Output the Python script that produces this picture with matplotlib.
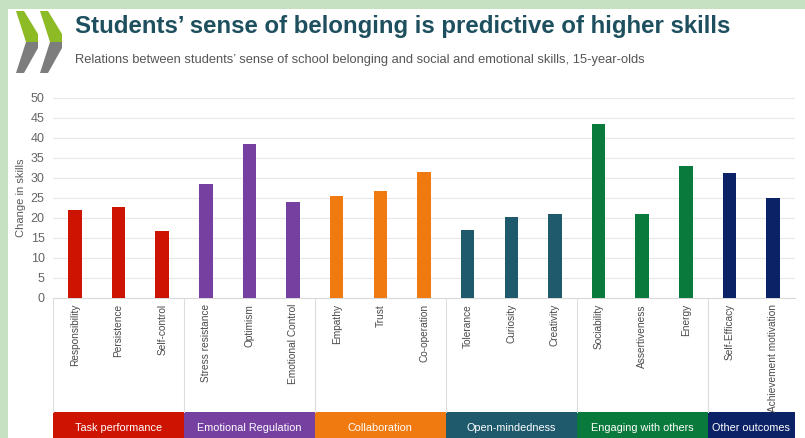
import matplotlib
matplotlib.use("Agg")
import matplotlib.pyplot as plt
from matplotlib.patches import Rectangle, Polygon
import numpy as np

# ---------------- data ----------------
skills = ["Responsibility", "Persistence", "Self-control",
          "Stress resistance", "Optimism", "Emotional Control",
          "Empathy", "Trust", "Co-operation",
          "Tolerance", "Curiosity", "Creativity",
          "Sociability", "Assertiveness", "Energy",
          "Self-Efficacy", "Achievement motivation"]
values = [21.9, 22.7, 16.8,
          28.5, 38.5, 24.1,
          25.6, 26.8, 31.5,
          16.9, 20.3, 20.9,
          43.5, 21.1, 33.1,
          31.3, 25.1]
groups = ["Task performance", "Emotional Regulation", "Collaboration",
          "Open-mindedness", "Engaging with others", "Other outcomes"]
group_sizes = [3, 3, 3, 3, 3, 2]
group_colors = ["#CC1400", "#7540A0", "#F07A10", "#1E5A6C", "#0A7A3C", "#0C2266"]
yticks = [0, 5, 10, 15, 20, 25, 30, 35, 40, 45, 50]

title = "Students\u2019 sense of belonging is predictive of higher skills"
subtitle = ("Relations between students\u2019 sense of school belonging and social "
            "and emotional skills, 15-year-olds")
ylabel = "Change in skills"

plt.rcParams['font.family'] = ['Liberation Sans', 'DejaVu Sans']

W, H = 805, 438
fig = plt.figure(figsize=(W / 100, H / 100), dpi=100)
fig.patch.set_facecolor("#C6E0C2")

# white panel
panel = fig.add_axes([8 / W, 0, 1 - 8 / W, 1 - 9 / H])
panel.set_facecolor("white")
panel.set_xticks([]); panel.set_yticks([])
for s in panel.spines.values():
    s.set_visible(False)

# logo (decoration) in pixel coords
logo = fig.add_axes([0, 0, 1, 1], facecolor="none")
logo.set_xlim(0, W); logo.set_ylim(H, 0); logo.axis("off")
for dx in (0, 24):
    logo.add_patch(Polygon([(16 + dx, 11), (24 + dx, 11), (38 + dx, 34), (38 + dx, 42),
                            (26 + dx, 42)],
                           closed=True, color="#8DBB25", lw=0))
    logo.add_patch(Polygon([(26 + dx, 42), (38 + dx, 42), (38 + dx, 48), (24 + dx, 73),
                            (16 + dx, 73)],
                           closed=True, color="#7D7D7D", lw=0))

fig.text(75 / W, 1 - 26 / H, title, fontsize=17.3, fontweight="bold",
         color="#1D4F5E", va="center", ha="left")
fig.text(75 / W, 1 - 60 / H, subtitle, fontsize=9.25, color="#555555",
         va="center", ha="left")

# ---------------- main axes ----------------
x0, x1 = 53, 795
ytop, ybot = 98, 298
ax = fig.add_axes([x0 / W, 1 - ybot / H, (x1 - x0) / W, (ybot - ytop) / H])
ax.set_facecolor("none")
n = len(skills)
x = np.arange(n)
colors = []
for c, sz in zip(group_colors, group_sizes):
    colors += [c] * sz
ax.bar(x, values, width=0.31, color=colors, zorder=3)
ax.set_xlim(-0.5, n - 0.5)
ax.set_ylim(0, 50)
ax.set_yticks(yticks)
ax.tick_params(axis="y", length=0, labelsize=9, labelcolor="#666666", pad=6)
ax.set_xticks([])
ax.grid(axis="y", color="#E8E8E8", lw=0.8, zorder=0)
for s in ["top", "right", "left"]:
    ax.spines[s].set_visible(False)
ax.spines["bottom"].set_color("#D9D9D9")
ax.set_ylabel(ylabel, fontsize=8, color="#595959", labelpad=3)

# ---------------- category / group area ----------------
band_top = 412
axb = fig.add_axes([x0 / W, 0, (x1 - x0) / W, (H - ybot) / H])
axb.set_facecolor("none")
axb.set_xlim(-0.5, n - 0.5)
axb.set_ylim(H - ybot, 0)
axb.axis("off")
for xi, lab in zip(x, skills):
    axb.text(xi, 6, lab, rotation=90, ha="center", va="top",
             fontsize=7.3, color="#4A4A4A")
start = -0.5
for g, sz, c in zip(groups, group_sizes, group_colors):
    end = start + sz
    axb.add_patch(Rectangle((start, band_top - ybot), sz, H - band_top + 5,
                            color=c, lw=0))
    axb.text((start + end) / 2, (band_top - ybot) + 16, g, ha="center",
             va="center", fontsize=7.8, color="white")
    axb.plot([start, start], [0, band_top - ybot], color="#DDDDDD", lw=0.8)
    start = end
axb.plot([start, start], [0, band_top - ybot], color="#DDDDDD", lw=0.8)

fig.savefig("out.png", dpi=100, facecolor=fig.get_facecolor())
